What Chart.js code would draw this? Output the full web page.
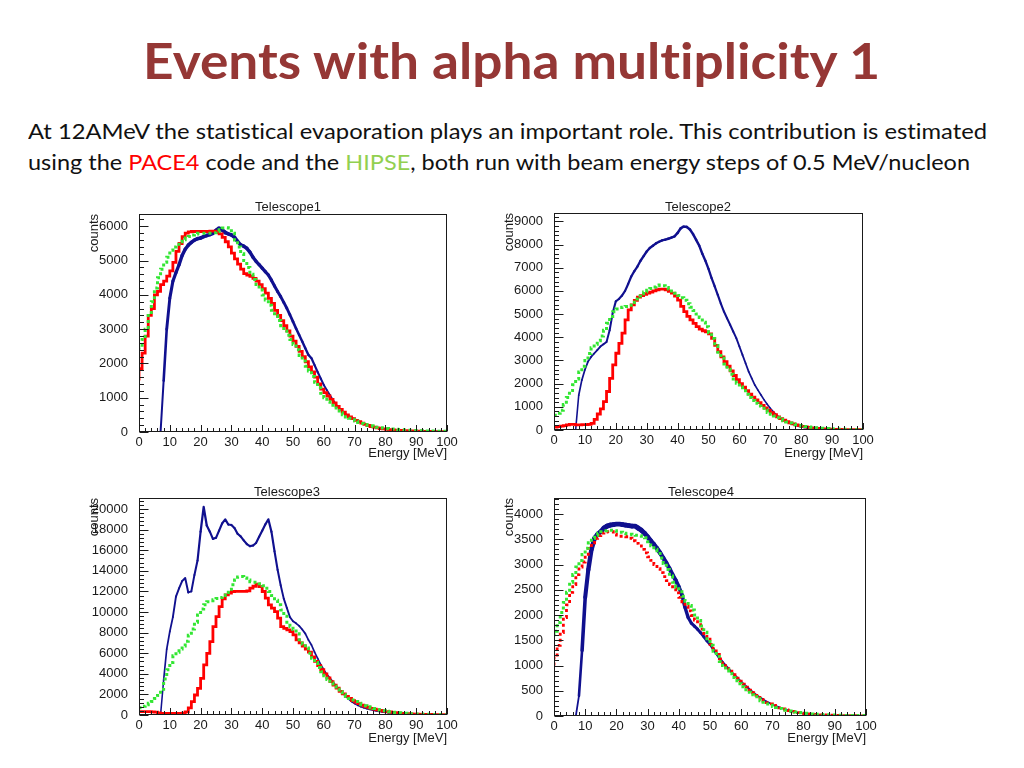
<!DOCTYPE html>
<html>
<head>
<meta charset="utf-8">
<script src="https://cdn.jsdelivr.net/npm/chart.js@4.4.1/dist/chart.umd.min.js"></script>
<style>
  html, body { margin:0; padding:0; background:#fff; }
  body { width:1024px; height:768px; position:relative; overflow:hidden; }
  .t { position:absolute; white-space:nowrap; transform-origin:0 0; line-height:1.2; font-family:'Lato','Open Sans',sans-serif; font-variant-ligatures:none; }
  #title { color:#953735; font-weight:bold; }
  #l1, #l2 { color:#111; }
  canvas { position:absolute; }
</style>
</head>
<body>
<div id="title" class="t">Events with alpha multiplicity 1</div>
<div id="l1" class="t">At 12AMeV the statistical evaporation plays an important role. This contribution is estimated</div>
<div id="l2" class="t">using the <span style="color:#ff0000">PACE4</span> code and the <span style="color:#92d050">HIPSE</span>, both run with beam energy steps of 0.5 MeV/nucleon</div>
<canvas id="c1" width="380" height="270" style="left:80px;top:195px"></canvas>
<canvas id="c2" width="390" height="270" style="left:495px;top:195px"></canvas>
<canvas id="c3" width="380" height="270" style="left:80px;top:480px"></canvas>
<canvas id="c4" width="390" height="270" style="left:495px;top:480px"></canvas>
<script>
// ---------------- DATA ----------------
// x tick labels (Energy [MeV])
const X_TICKS = [0,10,20,30,40,50,60,70,80,90,100];
// y tick labels (counts)
const T1_Y = [0,1000,2000,3000,4000,5000,6000];
const T2_Y = [0,1000,2000,3000,4000,5000,6000,7000,8000,9000];
const T3_Y = [0,2000,4000,6000,8000,10000,12000,14000,16000,18000,20000];
const T4_Y = [0,500,1000,1500,2000,2500,3000,3500,4000];
// y axis upper limits
const Y_MAX = [6360, 9360, 21070, 4317];

// Measured data (blue), counts at E = 0..100 MeV
const T1_DATA = [null,null,null,null,null,null,null,0,1500,3000,
 3900,4400,4650,4880,5150,5330,5450,5530,5600,5640,
 5660,5700,5730,5760,5800,5880,5950,5900,5820,5780,
 5750,5680,5560,5460,5420,5360,5250,5100,4980,4880,
 4780,4680,4580,4430,4260,4100,3950,3780,3610,3420,
 3220,3020,2830,2640,2440,2250,2150,1950,1750,1560,
 1370,1220,1070,930,800,680,600,530,470,420,
 380,330,290,250,220,190,165,140,120,100,
 88,75,64,54,46,40,34,28,24,20,
 17,14,12,10,8,7,6,5,4,3,3];
const T2_DATA = [null,null,null,null,null,null,null,0,1500,2150,
 2600,2950,3150,3300,3450,3600,3700,3800,4300,5050,
 5550,5650,5800,6000,6300,6620,6850,7050,7300,7500,
 7700,7850,7950,8050,8120,8180,8210,8250,8300,8350,
 8500,8700,8780,8760,8650,8450,8200,7950,7600,7300,
 6950,6550,6200,5830,5450,5110,4820,4540,4250,3960,
 3600,3240,2880,2520,2230,1940,1720,1510,1300,1110,
 940,790,650,540,440,360,300,250,200,160,
 130,105,85,70,55,45,37,30,24,20,
 16,13,11,9,8,7,6,5,4,3,3];
const T3_DATA = [null,null,null,null,null,null,null,0,3400,6400,
 8100,9500,11500,12300,13000,13300,11900,12000,13600,15000,
 17800,20200,18400,17800,17100,17200,17900,18600,19000,18500,
 18450,18150,17600,17350,16950,16600,16400,16450,16700,17300,
 17900,18500,19000,17800,15900,14100,12600,11300,10400,9500,
 9100,8900,8650,8300,7900,7300,6800,6100,5500,4900,
 4400,3950,3600,3200,2850,2450,2150,1850,1550,1300,
 1100,930,800,690,600,520,450,390,340,290,
 250,210,180,150,125,105,88,73,61,51,
 43,36,30,25,21,17,14,11,9,7,6];
const T4_DATA = [null,null,null,null,null,null,null,0,400,1300,
 2350,2900,3300,3520,3600,3650,3720,3760,3780,3790,
 3800,3800,3790,3780,3770,3760,3760,3720,3680,3620,
 3550,3470,3400,3320,3230,3130,3030,2920,2800,2690,
 2560,2400,2150,1950,1840,1780,1720,1650,1570,1490,
 1420,1330,1240,1150,1070,1000,930,860,800,740,
 680,620,570,510,460,410,370,330,290,260,
 230,205,180,155,135,115,100,85,72,62,
 52,44,37,31,26,22,18,15,12,10,
 8,7,6,5,4,4,3,3,2,2,2];

// PACE4 (red), 1 MeV bins starting at 0 MeV
const T1_PACE4 = [1500,1850,2300,2800,3400,3600,4000,4100,4300,4400,
 4550,4700,4950,5270,5500,5700,5800,5840,5850,5850,
 5850,5850,5850,5850,5860,5860,5820,5780,5680,5550,
 5400,5220,5050,4900,4750,4620,4580,4540,4480,4400,
 4300,4180,4050,3900,3750,3550,3400,3250,3100,2950,
 2800,2650,2500,2350,2200,2050,1900,1750,1600,1400,
 1250,1150,1050,950,850,750,660,580,500,440,
 390,340,300,260,220,190,160,140,120,100,
 90,80,70,60,55,50,45,40,35,30,
 28,25,22,20,18,16,14,12,10,9];
const T2_PACE4 = [100,130,150,170,190,220,240,240,220,220,
 230,230,240,290,460,690,910,1220,1660,2230,
 2810,3310,3740,4180,4750,5180,5400,5590,5730,5800,
 5850,5900,5950,6000,6050,6080,6080,6050,5980,5900,
 5780,5600,5330,5110,4900,4750,4600,4460,4350,4280,
 4230,4150,3950,3650,3380,3150,2950,2750,2550,2350,
 2170,2000,1850,1700,1550,1420,1300,1180,1060,950,
 850,750,660,570,490,420,360,310,260,220,
 190,160,135,115,95,80,68,58,50,42,
 36,31,27,23,20,17,15,13,11,10];
const T3_PACE4 = [320,330,320,330,320,300,280,200,160,160,
 160,160,160,160,160,170,300,700,1300,1940,
 2590,3560,4860,5990,7130,8590,9560,10530,11280,11660,
 11830,11990,12000,12000,12000,12000,12050,12310,12500,12700,
 12470,11990,11340,10690,10370,10040,9400,8590,8420,8260,
 8100,7780,7290,7000,6700,6400,6100,5650,5200,4800,
 4400,4000,3600,3250,2900,2600,2300,2050,1800,1600,
 1400,1250,1100,950,850,750,650,570,500,440,
 380,330,290,250,220,190,160,140,120,100,
 90,80,70,62,55,48,42,36,30,25];
const T4_PACE4 = [1000,1150,1400,1650,1950,2200,2450,2600,2800,2950,
 3050,3200,3320,3430,3520,3570,3620,3640,3650,3650,
 3600,3580,3560,3560,3550,3520,3470,3420,3370,3300,
 3230,3150,3080,3000,2920,2840,2760,2680,2600,2520,
 2440,2350,2260,2170,2080,1990,1900,1810,1720,1630,
 1520,1420,1320,1220,1130,1050,970,890,820,750,
 690,630,570,510,460,410,370,330,295,265,
 240,210,185,160,140,120,105,90,78,68,
 58,50,43,37,32,27,23,20,17,15,
 13,11,10,9,8,7,6,5,5,4];

// HIPSE (green), 1 MeV bins starting at 0 MeV
const T1_HIPSE = [2400,2450,2700,3000,3400,3800,4200,4500,4750,4950,
 5100,5300,5400,5480,5550,5610,5660,5700,5750,5780,
 5800,5800,5800,5800,5800,5810,5850,5900,5950,5960,
 5950,5800,5600,5400,5200,5000,4800,4600,4450,4300,
 4150,4000,3850,3700,3550,3400,3250,3100,2950,2820,
 2700,2550,2400,2230,2070,1920,1780,1620,1450,1290,
 1130,1000,880,780,700,630,560,500,440,400,
 360,320,280,250,220,200,180,160,140,125,
 115,105,95,85,78,70,64,58,53,48,
 44,40,37,34,31,28,26,24,22,20];
const T2_HIPSE = [650,640,720,850,1100,1400,1700,1950,2200,2500,
 2750,3000,3300,3550,3700,3850,4050,4300,4600,4900,
 5100,5220,5280,5300,5330,5380,5500,5650,5780,5880,
 5950,6030,6100,6170,6230,6250,6220,6150,6080,6000,
 5900,5800,5700,5600,5450,5300,5150,5000,4850,4650,
 4450,4200,3950,3650,3350,3100,2850,2620,2400,2200,
 2020,1850,1690,1540,1400,1270,1150,1040,940,850,
 760,680,600,530,460,400,350,300,260,225,
 195,170,150,130,115,100,88,78,68,60,
 53,47,41,36,32,28,25,22,20,18];
const T3_HIPSE = [650,700,850,1000,1150,1300,1600,1900,2500,3500,
 4400,5100,5750,6100,6400,6700,7150,7750,8350,9000,
 9700,10300,10700,11000,11100,11200,11300,11400,11600,11900,
 12200,12650,13100,13400,13450,13300,13100,12950,12900,12900,
 12750,12550,12300,12000,11600,11150,10700,10200,9600,9000,
 8600,8300,7900,7300,6900,6500,6000,5500,5100,4600,
 4200,3800,3450,3100,2800,2500,2250,2000,1800,1600,
 1450,1300,1150,1000,900,800,700,620,540,470,
 410,360,310,270,240,210,180,160,140,120,
 105,95,85,75,65,58,50,45,40,35];
const T4_HIPSE = [1580,1680,1850,2050,2250,2450,2650,2800,2950,3080,
 3200,3320,3430,3520,3580,3620,3650,3670,3680,3680,
 3670,3660,3640,3620,3610,3600,3590,3580,3570,3560,
 3530,3450,3370,3300,3220,3130,3020,2900,2770,2650,
 2550,2460,2370,2270,2190,2100,2000,1890,1780,1660,
 1530,1400,1280,1180,1080,1000,920,840,760,700,
 640,580,520,470,420,380,340,300,270,240,
 215,190,170,150,130,115,100,90,80,70,
 62,55,48,42,37,33,29,26,23,20,
 18,16,14,13,12,11,10,9,8,8];

const TITLES = ['Telescope1','Telescope2','Telescope3','Telescope4'];

// ---------------- LAYOUT / STYLE ----------------
const LAYOUT = [
  { canvas:'c1', rect:[80,195,380,270], plot:[139,214,447,432], titleAt:[288,207], yMinor:200,  blueK:2.5, dotRed:false },
  { canvas:'c2', rect:[495,195,390,270], plot:[554,213,863,430], titleAt:[698,207], yMinor:200,  blueK:1.2, dotRed:false },
  { canvas:'c3', rect:[80,480,380,270], plot:[139,498,447,715], titleAt:[287,492], yMinor:400,  blueK:0.9, dotRed:false },
  { canvas:'c4', rect:[495,480,390,270], plot:[554,498,866,716], titleAt:[701,492], yMinor:100,  blueK:4.0, dotRed:true }
];
const SERIES = [
  { data:T1_DATA, pace:T1_PACE4, hipse:T1_HIPSE, yTicks:T1_Y },
  { data:T2_DATA, pace:T2_PACE4, hipse:T2_HIPSE, yTicks:T2_Y },
  { data:T3_DATA, pace:T3_PACE4, hipse:T3_HIPSE, yTicks:T3_Y },
  { data:T4_DATA, pace:T4_PACE4, hipse:T4_HIPSE, yTicks:T4_Y }
];
const BLUE = '#10108f', RED = '#ff0000', GREEN = '#33e633';

Chart.defaults.font.family = "'Liberation Sans', Arial, sans-serif";
Chart.defaults.font.size = 13;
Chart.defaults.color = '#1a1a1a';

const rootFrame = {
  id: 'rootFrame',
  afterDatasetsDraw(chart, args, o) {
    const { ctx, chartArea: a, scales: { x, y } } = chart;
    ctx.save();
    ctx.strokeStyle = '#1a1a1a';
    ctx.lineWidth = 1;
    ctx.beginPath();
    const xr = Math.round(a.bottom) - 0.5;
    for (let k = 0; k <= 50; k++) {
      const v = k * 2;
      const px = Math.round(x.getPixelForValue(v)) + 0.5;
      const len = (v % 10 === 0) ? 6.5 : 3.5;
      ctx.moveTo(px, xr); ctx.lineTo(px, xr - len);
    }
    const lx = Math.round(a.left) + 0.5;
    for (let k = 0; k * o.yMinor <= y.max; k++) {
      const v = k * o.yMinor;
      const py = Math.round(y.getPixelForValue(v)) + 0.5;
      const len = (o.yMajor.includes(v)) ? 9 : 4.5;
      ctx.moveTo(lx, py); ctx.lineTo(lx + len, py);
    }
    ctx.stroke();
    ctx.strokeRect(Math.round(a.left) + 0.5, Math.round(a.top) + 0.5,
                   Math.round(a.right) - Math.round(a.left) - 1, Math.round(a.bottom) - Math.round(a.top) - 1);
    // histogram title
    ctx.fillStyle = '#1a1a1a';
    ctx.font = "13px 'Liberation Sans', Arial, sans-serif";
    ctx.textAlign = 'center';
    ctx.textBaseline = 'middle';
    ctx.fillText(o.title, o.titleX, o.titleY);
    ctx.restore();
  }
};

LAYOUT.forEach((L, i) => {
  const S = SERIES[i];
  const yMax = Y_MAX[i];
  const [rx, ry, rw, rh] = L.rect;
  const [pl, pt, pr, pb] = L.plot;
  const blueData = S.data.map((v, e) => ({ x: e, y: v }));
  const step = arr => arr.map((v, e) => ({ x: e, y: v })).concat([{ x: arr.length, y: arr[arr.length - 1] }]);
  new Chart(document.getElementById(L.canvas), {
    type: 'line',
    data: {
      datasets: [
        { label: 'HIPSE', data: step(S.hipse), borderColor: GREEN, borderWidth: 3, borderDash: [3, 3],
          stepped: 'after', pointRadius: 0, fill: false },
        { label: 'PACE4', data: step(S.pace), borderColor: RED, borderWidth: 2.8, borderDash: L.dotRed ? [3, 3] : [],
          stepped: 'after', pointRadius: 0, fill: false },
        { label: 'data', data: blueData, borderColor: BLUE, borderWidth: 1.5, pointRadius: 0, fill: false,
          borderCapStyle: 'round', borderJoinStyle: 'round', tension: 0,
          segment: { borderWidth: c => 1.4 + L.blueK * Math.max(c.p0.parsed.y, c.p1.parsed.y) / yMax } }
      ]
    },
    options: {
      responsive: false, animation: false, devicePixelRatio: 1,
      layout: { padding: { left: 0, bottom: 0, top: pt - ry, right: (rx + rw) - pr } },
      plugins: {
        legend: { display: false }, tooltip: { enabled: false },
        rootFrame: { title: TITLES[i], titleX: L.titleAt[0] - rx, titleY: L.titleAt[1] - ry,
                     yMinor: L.yMinor, yMajor: S.yTicks }
      },
      scales: {
        x: {
          type: 'linear', min: 0, max: 100,
          grid: { display: false }, border: { display: false },
          ticks: { padding: -5, maxRotation: 0, autoSkip: false, callback: v => String(v) },
          afterBuildTicks: s => { s.ticks = X_TICKS.map(v => ({ value: v })); },
          afterFit: s => { s.height = (ry + rh) - pb; },
          title: { display: true, text: 'Energy [MeV]', align: 'end', padding: { top: 0, bottom: 4 },
                   font: { size: 13 }, color: '#1a1a1a' }
        },
        y: {
          type: 'linear', min: 0, max: yMax,
          grid: { display: false }, border: { display: false },
          ticks: { padding: 3, autoSkip: false, callback: v => String(v) },
          afterBuildTicks: s => { s.ticks = S.yTicks.map(v => ({ value: v })); },
          afterFit: s => { s.width = pl - rx; },
          title: { display: true, text: 'counts', align: 'end', padding: { top: 7, bottom: 0 },
                   font: { size: 13 }, color: '#1a1a1a' }
        }
      }
    },
    plugins: [rootFrame]
  });
});

// ---------------- TEXT PLACEMENT ----------------
function place(id, left, baseline, width, size) {
  const el = document.getElementById(id);
  el.style.fontSize = size + 'px';
  el.style.left = left + 'px';
  el.style.top = '0px';
  const w = el.getBoundingClientRect().width;
  const mk = document.createElement('span');
  mk.style.display = 'inline-block'; mk.style.width = '0'; mk.style.height = '0';
  el.appendChild(mk);
  const b = mk.getBoundingClientRect().top;
  el.style.top = (baseline - b) + 'px';
  el.style.transform = 'scaleX(' + (width / w) + ')';
}
place('title', 143, 79, 737, 49);
place('l1', 28, 139, 959, 22);
place('l2', 28, 170, 942, 22);
</script>
</body>
</html>
